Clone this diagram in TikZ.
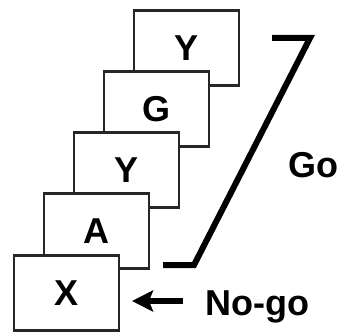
\documentclass[tikz,border=0pt]{standalone}
\usepackage{fontspec}
\setmainfont{Liberation Sans}
\usetikzlibrary{arrows.meta}
\begin{document}
\begin{tikzpicture}[x=1pt,y=-1pt,
  card/.style={draw=black!85,line width=2.4pt,fill=white,minimum width=105pt,minimum height=75pt,inner sep=0pt,outer sep=0pt,
    font=\fontsize{36}{40}\selectfont\bfseries},
  lbl/.style={font=\fontsize{36}{40}\selectfont\bfseries,inner sep=0pt,anchor=base west},
  brace/.style={line width=6pt,miter limit=20},
  pointer/.style={line width=5.5pt,-{Stealth[length=21pt,width=21pt,inset=4pt]}}]
\useasboundingbox (0,0) rectangle (339,334);
% stacked stimulus cards, back to front
\node[card] (c1) at (186.5,48) {Y};
\node[card] (c2) at (156.5,109) {G};
\node[card] (c3) at (126.5,170) {Y};
\node[card] (c4) at (96.5,231) {A};
\node[card] (c5) at (66.5,293) {X};
% go bracket spanning the later cards
\coordinate (bt) at (272,38);
\coordinate (btr) at (310,38);
\coordinate (bbl) at (194,265);
\coordinate (bb) at (163,265);
\draw[brace] (bt) -- (btr) -- (bbl) -- (bb);
\node[lbl] (go) at (288.5,177) {Go};
% no-go label with arrow to the first card
\node[lbl] (nogo) at (205.5,315) {No-go};
\coordinate (tail) at (183,301);
\coordinate (tip) at (132,301);
\draw[pointer] (tail) -- (tip);
\end{tikzpicture}
\end{document}
